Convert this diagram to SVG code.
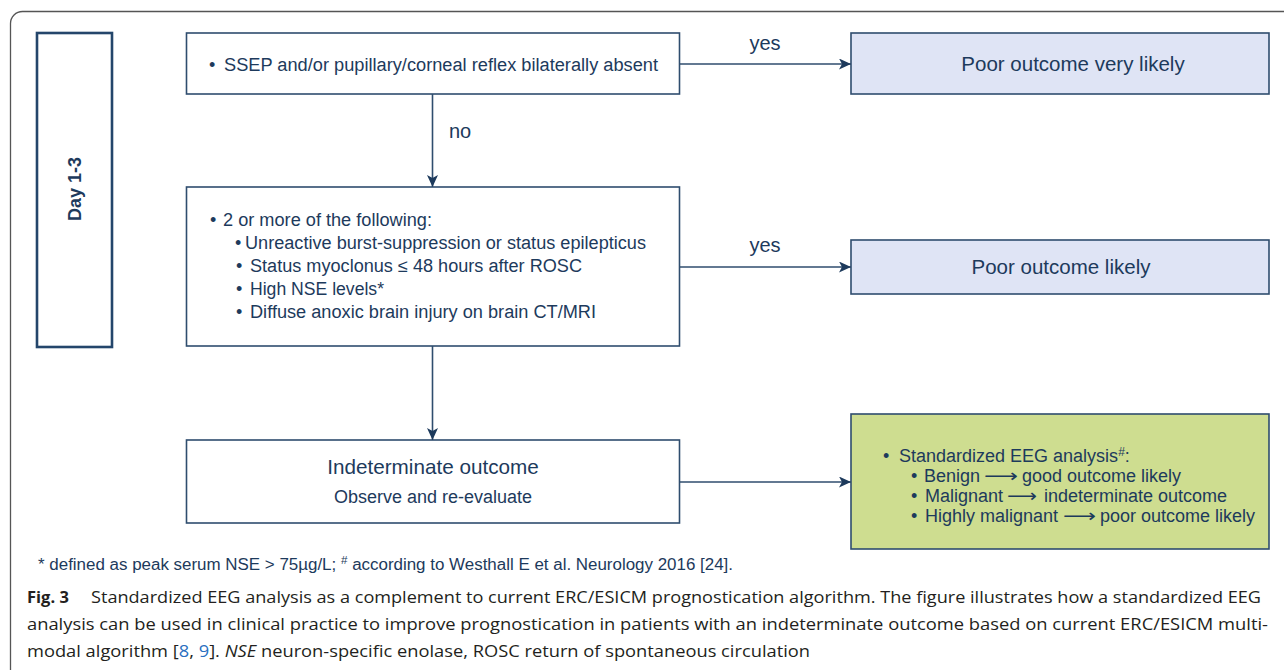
<svg xmlns="http://www.w3.org/2000/svg" width="1284" height="670" viewBox="0 0 1284 670">
<style>
.box{fill:#ffffff;stroke:#2f4d6e;stroke-width:1.6}
.poor{fill:#dfe4f5;stroke:#2f4d6e;stroke-width:1.6}
.green{fill:#cedd90;stroke:#2f4d6e;stroke-width:1.6}
.day{fill:#ffffff;stroke:#24466b;stroke-width:2.6}
.t{font-family:"Liberation Sans",Arial,sans-serif;fill:#1d3a5c}
.c{fill:none;stroke:#2f4d6e;stroke-width:1.6}
.cap{font-family:"Open Sans","Liberation Sans",sans-serif;fill:#231f20;font-size:16.5px}
</style>
<defs>
<marker id="ah" markerUnits="userSpaceOnUse" markerWidth="13" markerHeight="12" refX="12" refY="5.5" orient="auto">
<path d="M0,0 L12,5.5 L0,11 L3,5.5 z" fill="#1d3a5c"/>
</marker>
</defs>
<rect x="10.5" y="11.5" width="1300" height="700" rx="12" fill="#ffffff" stroke="#555555" stroke-width="1.3"/>

<g id="day">
<rect class="day" x="37" y="33" width="75" height="314"/>
<text class="t" transform="translate(81,189) rotate(-90)" text-anchor="middle" font-size="18" font-weight="bold" fill="#1d3a5c">Day 1-3</text>
</g>

<g id="n1">
<rect class="box" x="186.5" y="33" width="493" height="61"/>
<text class="t" x="209" y="71" font-size="18">•</text>
<text class="t" x="224" y="71" font-size="18" textLength="434" lengthAdjust="spacingAndGlyphs">SSEP and/or pupillary/corneal reflex bilaterally absent</text>
</g>

<g id="n2">
<rect class="poor" x="851" y="33" width="418" height="61"/>
<text class="t" x="1073" y="71" font-size="20.5" text-anchor="middle">Poor outcome very likely</text>
</g>

<g id="n3">
<rect class="box" x="186.5" y="187" width="493" height="159"/>
<text class="t" x="210" y="226" font-size="18">•</text>
<text class="t" x="223" y="226" font-size="18" textLength="209" lengthAdjust="spacingAndGlyphs">2 or more of the following:</text>
<text class="t" x="235" y="249" font-size="18">•</text>
<text class="t" x="245" y="249" font-size="18" textLength="401" lengthAdjust="spacingAndGlyphs">Unreactive burst-suppression or status epilepticus</text>
<text class="t" x="236" y="272" font-size="18">•</text>
<text class="t" x="250" y="272" font-size="18" textLength="332" lengthAdjust="spacingAndGlyphs">Status myoclonus ≤ 48 hours after ROSC</text>
<text class="t" x="236" y="295" font-size="18">•</text>
<text class="t" x="250" y="295" font-size="18" textLength="134" lengthAdjust="spacingAndGlyphs">High NSE levels*</text>
<text class="t" x="236" y="318" font-size="18">•</text>
<text class="t" x="250" y="318" font-size="18" textLength="346" lengthAdjust="spacingAndGlyphs">Diffuse anoxic brain injury on brain CT/MRI</text>
</g>

<g id="n4">
<rect class="poor" x="851" y="240" width="418" height="54"/>
<text class="t" x="1061" y="274" font-size="20.5" text-anchor="middle">Poor outcome likely</text>
</g>

<g id="n5">
<rect class="box" x="186.5" y="440" width="493" height="83"/>
<text class="t" x="433" y="474" font-size="20.7" text-anchor="middle">Indeterminate outcome</text>
<text class="t" x="433" y="503" font-size="18" text-anchor="middle">Observe and re-evaluate</text>
</g>

<g id="n6">
<rect class="green" x="851" y="414" width="418" height="135"/>
<text class="t" x="883" y="462" font-size="18">•</text>
<text class="t" x="899" y="462" font-size="18">Standardized EEG analysis<tspan font-size="12" dy="-6">#</tspan><tspan dy="6">:</tspan></text>
<text class="t" x="911" y="482" font-size="18">•</text>
<text class="t" y="482" font-size="18"><tspan x="924">Benign</tspan><tspan x="984" font-family="'DejaVu Sans',sans-serif" textLength="34" lengthAdjust="spacingAndGlyphs">⟶</tspan><tspan x="1022">good outcome likely</tspan></text>
<text class="t" x="911" y="502" font-size="18">•</text>
<text class="t" y="502" font-size="18"><tspan x="925">Malignant</tspan><tspan x="1007" font-family="'DejaVu Sans',sans-serif" textLength="30" lengthAdjust="spacingAndGlyphs">⟶</tspan><tspan x="1044">indeterminate outcome</tspan></text>
<text class="t" x="911" y="522" font-size="18">•</text>
<text class="t" y="522" font-size="18"><tspan x="925">Highly malignant</tspan><tspan x="1063" font-family="'DejaVu Sans',sans-serif" textLength="33" lengthAdjust="spacingAndGlyphs">⟶</tspan><tspan x="1100">poor outcome likely</tspan></text>
</g>

<g id="connectors">
<line class="c" x1="680" y1="64" x2="851" y2="64" marker-end="url(#ah)"/>
<line class="c" x1="432.5" y1="94" x2="432.5" y2="187" marker-end="url(#ah)"/>
<line class="c" x1="680" y1="267" x2="851" y2="267" marker-end="url(#ah)"/>
<line class="c" x1="432.5" y1="346" x2="432.5" y2="440" marker-end="url(#ah)"/>
<line class="c" x1="680" y1="482" x2="851" y2="482" marker-end="url(#ah)"/>
<text class="t" x="765" y="50" font-size="20" text-anchor="middle">yes</text>
<text class="t" x="460" y="138" font-size="20" text-anchor="middle">no</text>
<text class="t" x="765" y="252" font-size="20" text-anchor="middle">yes</text>
</g>

<g id="footnote">
<text class="t" x="38" y="570" font-size="16" textLength="695" lengthAdjust="spacingAndGlyphs">* defined as peak serum NSE &gt; 75µg/L; <tspan font-size="11" dy="-6">#</tspan><tspan dy="6"> according to Westhall E et al. Neurology 2016 [24].</tspan></text>
</g>

<g id="caption">
<text class="cap" x="27" y="603" font-weight="bold" font-size="17.5">Fig. 3</text>
<text class="cap" x="91" y="603" textLength="1170" lengthAdjust="spacingAndGlyphs">Standardized EEG analysis as a complement to current ERC/ESICM prognostication algorithm. The figure illustrates how a standardized EEG</text>
<text class="cap" x="27" y="630" textLength="1241" lengthAdjust="spacingAndGlyphs">analysis can be used in clinical practice to improve prognostication in patients with an indeterminate outcome based on current ERC/ESICM multi-</text>
<text class="cap" x="27" y="657" textLength="783" lengthAdjust="spacingAndGlyphs">modal algorithm [<tspan fill="#2a6fc0">8</tspan>, <tspan fill="#2a6fc0">9</tspan>]. <tspan font-style="italic">NSE</tspan> neuron-specific enolase, ROSC return of spontaneous circulation</text>
</g>
</svg>
